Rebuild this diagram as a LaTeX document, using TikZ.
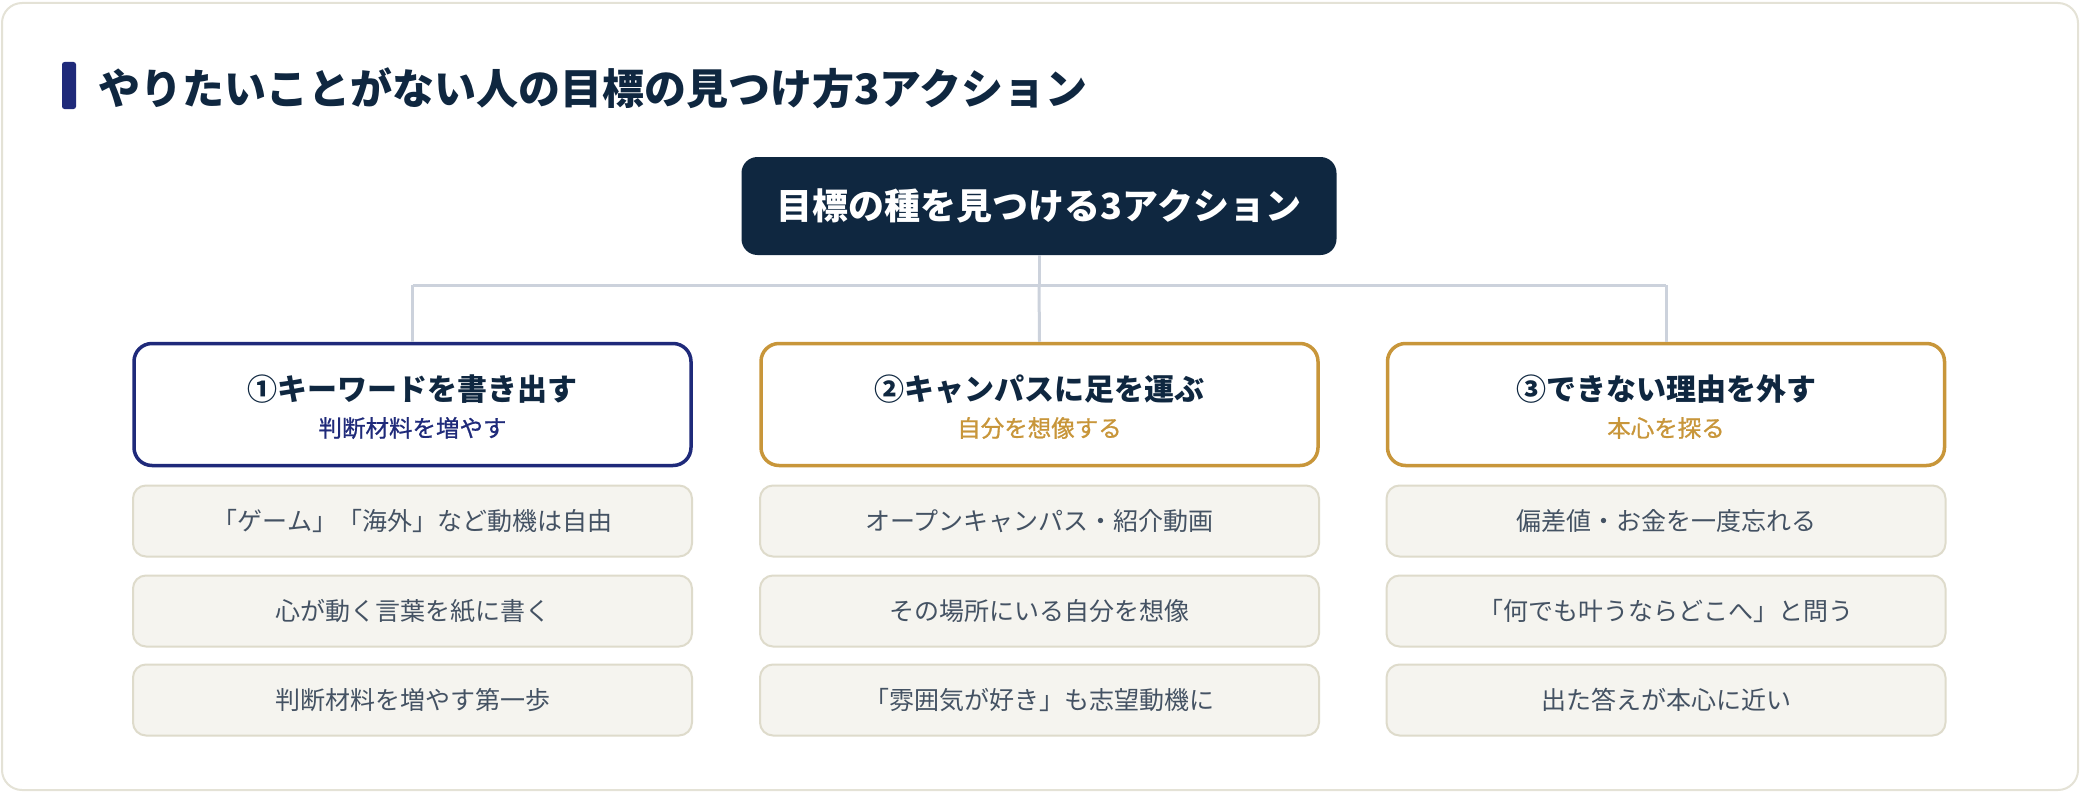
\documentclass[tikz,border=0pt]{standalone}
\usepackage{fontspec}
\setmainfont{Noto Sans CJK JP}
\newfontfamily\medfont[FakeBold=0.8]{Noto Sans CJK JP}
\begin{document}
\definecolor{framec}{HTML}{E4E2D6}
\definecolor{darknavy}{HTML}{0F2740}
\definecolor{navyc}{HTML}{1F2A7A}
\definecolor{goldc}{HTML}{C8963A}
\definecolor{linec}{HTML}{CCD2DC}
\definecolor{itemfill}{HTML}{F5F4EF}
\definecolor{itemborder}{HTML}{DEDBCB}
\definecolor{itemtext}{HTML}{445263}
\begin{tikzpicture}[x=1pt,y=-1pt,
  topbox/.style={fill=darknavy, rounded corners=16pt, minimum width=595pt, minimum height=98pt, inner sep=0pt},
  headbox/.style={fill=white, line width=3.5pt, rounded corners=18pt, minimum width=557pt, minimum height=122pt, inner sep=0pt},
  itembox/.style={fill=itemfill, draw=itemborder, line width=2pt, rounded corners=13pt, minimum width=559pt, minimum height=71pt, inner sep=0pt, text=itemtext, font=\fontsize{25}{29}\selectfont},
  headtitle/.style={inner sep=0pt, text=darknavy, font=\fontsize{30}{36}\selectfont\bfseries},
  headsub/.style={inner sep=0pt, font=\fontsize{23.5}{27}\medfont},
  conn/.style={draw=linec, line width=3pt}]
\useasboundingbox (0,0) rectangle (2080,792);
\draw[draw=framec, line width=2pt, fill=white, rounded corners=20pt] (2,3) rectangle (2078,790);
% title
\fill[navyc, rounded corners=2.5pt] (62,62) rectangle (76,109);
\node[anchor=west, inner sep=0pt, text=darknavy, font=\fontsize{42}{48}\selectfont\bfseries] (title) at (98,88) {やりたいことがない人の目標の見つけ方3アクション};
% top node
\node[topbox, text=white, font=\fontsize{36}{42}\selectfont\bfseries] (top) at (1039,206) {目標の種を見つける3アクション};
% header boxes
\node[headbox, draw=navyc] (h1) at (412.5,404.5) {};
\node[headbox, draw=goldc] (h2) at (1039.5,404.5) {};
\node[headbox, draw=goldc] (h3) at (1666,404.5) {};
\node[headtitle] (h1t) at (412.5,389) {①キーワードを書き出す};
\node[headsub, text=navyc] (h1s) at (412.5,428) {判断材料を増やす};
\node[headtitle] (h2t) at (1039.5,389) {②キャンパスに足を運ぶ};
\node[headsub, text=goldc] (h2s) at (1039.5,428) {自分を想像する};
\node[headtitle] (h3t) at (1666,389) {③できない理由を外す};
\node[headsub, text=goldc] (h3s) at (1666,428) {本心を探る};
% connectors
\coordinate (jc) at (1039,285);
\coordinate (jl) at (412.5,285);
\coordinate (jr) at (1666,285);
\draw[conn] (top.south) -- (jc);
\draw[conn] (jl) -- (jr);
\draw[conn] (jl) -- (h1.north);
\draw[conn] (jc) -- (h2.north);
\draw[conn] (jr) -- (h3.north);
% items
\node[itembox] (a1) at (412.5,521) {「ゲーム」「海外」など動機は自由};
\node[itembox] (a2) at (412.5,611) {心が動く言葉を紙に書く};
\node[itembox] (a3) at (412.5,700) {判断材料を増やす第一歩};
\node[itembox] (b1) at (1039.5,521) {オープンキャンパス・紹介動画};
\node[itembox] (b2) at (1039.5,611) {その場所にいる自分を想像};
\node[itembox] (b3) at (1039.5,700) {「雰囲気が好き」も志望動機に};
\node[itembox] (c1) at (1666,521) {偏差値・お金を一度忘れる};
\node[itembox] (c2) at (1666,611) {「何でも叶うならどこへ」と問う};
\node[itembox] (c3) at (1666,700) {出た答えが本心に近い};
\end{tikzpicture}
\end{document}
